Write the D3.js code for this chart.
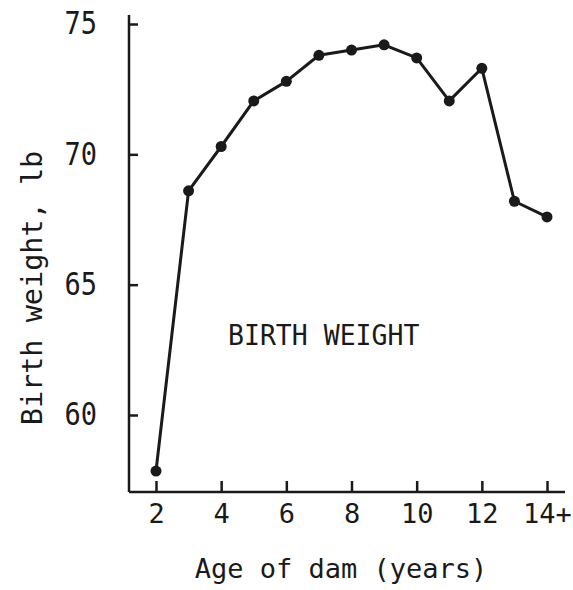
<!DOCTYPE html>
<html>
<head>
<meta charset="utf-8">
<script src="https://cdn.jsdelivr.net/npm/d3@7"></script>
<style>
	body { margin: 0; background: #fff; }
	svg text { font-family: "DejaVu Sans Mono", "Liberation Mono", monospace; fill: #1a1a1a; }
</style>
</head>
<body>
<svg id="chart" width="573" height="590"></svg>
<script>
// age of dam (years), 14 stands for "14+"
const ages = [2, 3, 4, 5, 6, 7, 8, 9, 10, 11, 12, 13, 14];
const birthWeights = [57.85, 68.6, 70.3, 72.05, 72.8, 73.8, 74.0, 74.2, 73.7, 72.05, 73.3, 68.2, 67.6];
const xTicks = [2, 4, 6, 8, 10, 12, 14];
const xTickLabels = ['2', '4', '6', '8', '10', '12', '14+'];
const yTicks = [60, 65, 70, 75];

const ink = '#1a1a1a';
const svg = d3.select('#chart');

const x = d3.scaleLinear().domain([2, 14]).range([156, 547]);
const y = d3.scaleLinear().domain([60, 75]).range([415, 24]);

const axisLeftX = 129, axisBottomY = 492;

// axis lines (they run past the tick range, like the original)
svg.append('line')
	.attr('x1', axisLeftX).attr('x2', axisLeftX)
	.attr('y1', 15).attr('y2', axisBottomY)
	.attr('stroke', ink).attr('stroke-width', 2.5);
svg.append('line')
	.attr('x1', axisLeftX).attr('x2', 565)
	.attr('y1', axisBottomY).attr('y2', axisBottomY)
	.attr('stroke', ink).attr('stroke-width', 2.5);

const yAxis = svg.append('g')
	.attr('transform', `translate(${axisLeftX},0)`)
	.call(d3.axisLeft(y).tickValues(yTicks).tickSizeInner(-9).tickSizeOuter(0).tickPadding(32));

const xAxis = svg.append('g')
	.attr('transform', `translate(0,${axisBottomY})`)
	.call(d3.axisBottom(x).tickValues(xTicks)
		.tickFormat((d, i) => xTickLabels[i])
		.tickSizeInner(-11).tickSizeOuter(0).tickPadding(12));

[yAxis, xAxis].forEach(function(g) {
	g.select('.domain').remove();
	g.selectAll('.tick line').attr('stroke', ink).attr('stroke-width', 2.5);
	g.selectAll('.tick text')
		.attr('fill', ink)
		.style('font-size', '27px');
});
yAxis.selectAll('.tick text').attr('transform', 'scale(1,1.15)');

const line = d3.line()
	.x((d) => x(d.age))
	.y((d) => y(d.weight));

const points = ages.map((a, i) => ({ age: a, weight: birthWeights[i] }));

svg.append('path')
	.attr('d', line(points))
	.attr('fill', 'none')
	.attr('stroke', ink)
	.attr('stroke-width', 3)
	.attr('stroke-linejoin', 'round');

svg.selectAll('circle.pt')
	.data(points)
	.enter().append('circle')
	.attr('class', 'pt')
	.attr('cx', (d) => x(d.age))
	.attr('cy', (d) => y(d.weight))
	.attr('r', 5.5)
	.attr('fill', ink);

// in-plot label
svg.append('text')
	.attr('transform', 'translate(228,345) scale(1,1.1)')
	.style('font-size', '26.5px')
	.text('BIRTH WEIGHT');

// axis titles
svg.append('text')
	.attr('x', 341).attr('y', 578)
	.attr('text-anchor', 'middle')
	.style('font-size', '27px')
	.text('Age of dam (years)');

svg.append('text')
	.attr('transform', 'translate(42,288) rotate(-90)')
	.attr('text-anchor', 'middle')
	.style('font-size', '28.5px')
	.text('Birth weight, lb');
</script>
</body>
</html>
